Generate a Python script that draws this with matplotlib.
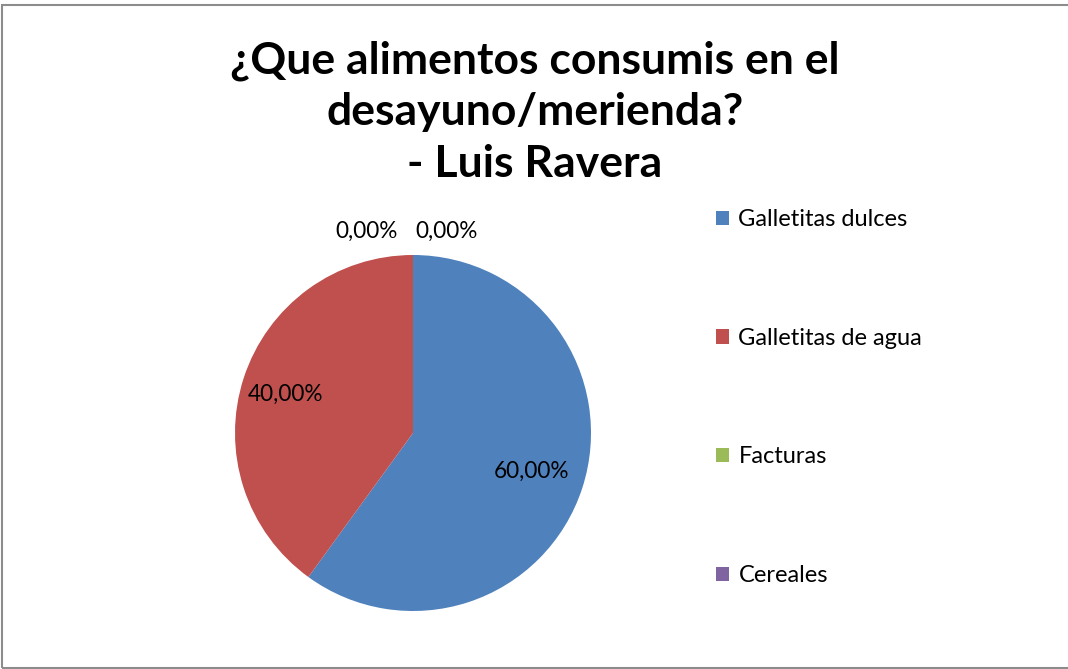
import matplotlib
matplotlib.use('Agg')
import matplotlib.pyplot as plt
from matplotlib.patches import Patch, Rectangle
import numpy as np

categories = ['Galletitas dulces', 'Galletitas de agua', 'Facturas', 'Cereales']
shares = [60.0, 40.0, 0.0, 0.0]
colors = ['#4F81BD', '#C0504D', '#9BBB59', '#8064A2']
title = '¿Que alimentos consumis en el\ndesayuno/merienda?\n- Luis Ravera'

FONT = ['Lato', 'DejaVu Sans']
W, H = 1068, 669

fig = plt.figure(figsize=(W / 100, H / 100), dpi=100)

# outer chart frame
fig.patches.append(Rectangle((1.5 / W, 1.5 / H), 1.2, (H - 6) / H,
                             transform=fig.transFigure, fill=False,
                             edgecolor='#8c8c8c', linewidth=1.5))

fig.text(535 / W, 1 - 112 / H, title, ha='center', va='center',
         fontsize=32, fontweight='bold', family=FONT, linespacing=1.35)

ax = fig.add_axes([235 / W, 58 / H, 356 / W, 356 / H])
wedges, _ = ax.pie(shares, colors=colors, startangle=90, counterclock=False,
                   radius=1.0)
ax.set_xlim(-1, 1)
ax.set_ylim(-1, 1)
ax.set_aspect('equal')
ax.axis('off')

# percentage labels from each wedge's mid angle
zero_offsets = [(-0.26, 1.135), (0.19, 1.135)]
zi = 0
for w, v in zip(wedges, shares):
    label = f'{v:.2f}%'.replace('.', ',')
    if v > 0:
        mid = np.deg2rad((w.theta1 + w.theta2) / 2)
        x, y = 0.7 * np.cos(mid), 0.7 * np.sin(mid)
        if x < 0:
            x -= 0.05
        ax.text(x, y, label, ha='center', va='center', fontsize=16.3,
                family=FONT, clip_on=False)
    else:
        x, y = zero_offsets[zi]
        zi += 1
        ax.text(x, y, label, ha='center', va='center', fontsize=16.3,
                family=FONT, clip_on=False)

handles = [Patch(facecolor=c, edgecolor='none') for c in colors]
fig.legend(handles, categories, loc='upper left',
           bbox_to_anchor=(716 / W, 1 - 209 / H), frameon=False,
           prop={'family': FONT, 'size': 17}, handlelength=0.55,
           handleheight=0.55, handletextpad=0.4, labelspacing=4.14,
           borderaxespad=0, borderpad=0)

fig.savefig('out.png', dpi=100)
